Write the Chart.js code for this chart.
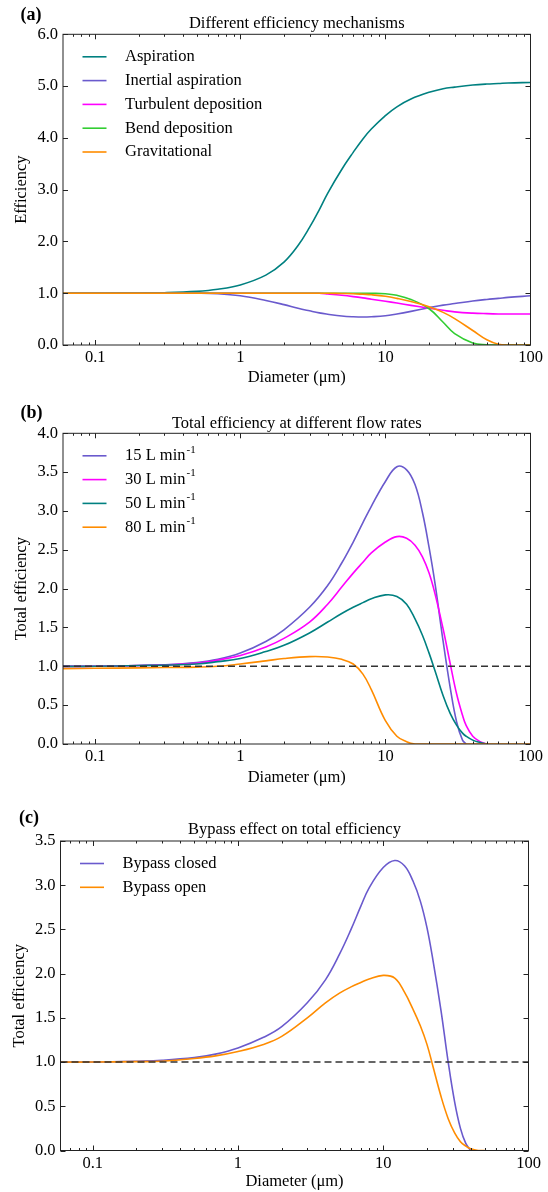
<!DOCTYPE html>
<html>
<head>
<meta charset="utf-8">
<script src="https://cdn.jsdelivr.net/npm/chart.js@4.4.0/dist/chart.umd.min.js"></script>
<style>
  body { margin: 0; background: #fff; }
  canvas { position: absolute; left: 0; }
</style>
</head>
<body>
<canvas id="chartA" width="548" height="400" style="top:0px"></canvas>
<canvas id="chartB" width="548" height="400" style="top:400px"></canvas>
<canvas id="chartC" width="548" height="392" style="top:800px"></canvas>
<script>
// x axis range and labelled ticks (log scale, micrometres)
const xMin = 0.06, xMax = 100;
const xTickValues = [0.1, 1, 10, 100];

// (a) different efficiency mechanisms
const diamA = [0.06, 0.1, 0.2, 0.3, 0.5, 0.7, 1, 1.5, 2, 2.5, 3, 3.5, 4, 5, 6, 7, 8, 10, 12, 15, 20, 25, 30, 40, 50, 60, 70, 100];
const aspiration = [1.0, 1.0, 1.005, 1.01, 1.035, 1.075, 1.16, 1.35, 1.6, 1.92, 2.27, 2.61, 2.93, 3.39, 3.72, 3.98, 4.17, 4.43, 4.6, 4.75, 4.88, 4.95, 4.98, 5.02, 5.04, 5.05, 5.06, 5.07];
const inertial = [1.0, 1.0, 1.0, 1.0, 1.0, 0.99, 0.95, 0.86, 0.78, 0.71, 0.66, 0.62, 0.595, 0.56, 0.545, 0.54, 0.545, 0.565, 0.6, 0.65, 0.72, 0.77, 0.8, 0.85, 0.88, 0.9, 0.92, 0.95];
const turbulent = [1, 1, 1, 1, 1, 1, 1, 1, 1, 1, 1.0, 0.998, 0.985, 0.96, 0.935, 0.91, 0.885, 0.845, 0.81, 0.765, 0.71, 0.67, 0.64, 0.615, 0.605, 0.6, 0.6, 0.6];
const bend = [1, 1, 1, 1, 1, 1, 1, 1, 1, 1, 1, 1, 1, 1, 1, 1, 0.998, 0.99, 0.96, 0.88, 0.7, 0.44, 0.22, 0.04, 0.005, 0, 0, 0];
const gravitational = [1, 1, 1, 1, 1, 1, 1, 1, 1, 1, 1, 1, 1.0, 0.995, 0.99, 0.98, 0.97, 0.94, 0.9, 0.84, 0.74, 0.63, 0.51, 0.28, 0.1, 0.015, 0, 0];
const mechanismLabels = ['Aspiration', 'Inertial aspiration', 'Turbulent deposition', 'Bend deposition', 'Gravitational'];

// (b) total efficiency at different flow rates
const diamB = [0.06, 0.1, 0.2, 0.3, 0.5, 0.7, 1, 1.5, 2, 3, 4, 5, 6, 7, 8, 10, 12, 14, 16, 18, 20, 22, 25, 28, 31, 34, 36, 40, 45, 50, 100];
const flow15 = [1.0, 1.0, 1.01, 1.02, 1.05, 1.09, 1.17, 1.32, 1.47, 1.76, 2.04, 2.33, 2.6, 2.85, 3.06, 3.38, 3.57, 3.53, 3.34, 2.98, 2.53, 2.06, 1.32, 0.72, 0.28, 0.05, 0.0, null, null, null, null];
const flow30 = [1.0, 1.0, 1.01, 1.02, 1.04, 1.08, 1.14, 1.25, 1.36, 1.57, 1.8, 2.02, 2.2, 2.34, 2.46, 2.6, 2.67, 2.65, 2.56, 2.41, 2.2, 1.93, 1.48, 1.03, 0.64, 0.37, 0.24, 0.1, 0.03, 0.0, null];
const flow50 = [1.0, 1.0, 1.01, 1.015, 1.03, 1.06, 1.1, 1.19, 1.27, 1.43, 1.57, 1.68, 1.76, 1.82, 1.87, 1.92, 1.9, 1.8, 1.61, 1.4, 1.17, 0.94, 0.62, 0.39, 0.24, 0.14, 0.1, 0.05, 0.02, 0.0, null];
const flow80 = [0.97, 0.975, 0.98, 0.985, 0.99, 1.0, 1.03, 1.07, 1.1, 1.125, 1.12, 1.09, 1.03, 0.9, 0.7, 0.3, 0.1, 0.03, 0.0, 0, 0, 0, 0, 0, 0, 0, 0, 0, 0, 0, 0];
const flowRates = [15, 30, 50, 80];

// (c) bypass effect on total efficiency
const diamC = [0.06, 0.1, 0.2, 0.3, 0.5, 0.7, 1, 1.5, 2, 3, 4, 5, 6, 7, 8, 10, 12, 14, 16, 18, 20, 22, 25, 28, 31, 34, 37, 40, 45, 50];
const bypassClosed = [1.0, 1.0, 1.01, 1.02, 1.05, 1.09, 1.16, 1.28, 1.4, 1.67, 1.93, 2.22, 2.5, 2.76, 2.97, 3.2, 3.28, 3.22, 3.05, 2.82, 2.52, 2.15, 1.58, 1.0, 0.55, 0.25, 0.08, 0.0, null, null];
const bypassOpen = [1.0, 1.0, 1.005, 1.01, 1.04, 1.07, 1.12, 1.2, 1.29, 1.5, 1.67, 1.78, 1.85, 1.9, 1.94, 1.98, 1.95, 1.79, 1.6, 1.41, 1.2, 0.95, 0.61, 0.36, 0.2, 0.1, 0.05, 0.02, 0.0, 0.0];
const bypassLabels = ['Bypass closed', 'Bypass open'];

const TEAL = '#008080', PURPLE = '#6a5acd', MAGENTA = '#ff00ff', GREEN = '#32cd32', ORANGE = '#ff8c00';
const SERIF = "'Liberation Serif', 'Times New Roman', serif";
const FS = 16.5;

Chart.defaults.font.family = SERIF;
Chart.defaults.color = '#000';

function series(label, xs, ys, color, i) {
  return {
    label: label,
    data: xs.map((x, k) => ({x: x, y: ys[k]})),
    borderColor: color,
    borderWidth: 1.6,
    pointRadius: 0,
    fill: false,
    tension: 0.4,
    order: -i   // later series drawn on top, like the original
  };
}

function unityLine() {
  return {
    label: 'unity',
    data: [{x: xMin, y: 1}, {x: xMax, y: 1}],
    borderColor: '#333',
    borderWidth: 1.5,
    borderDash: [7, 4],
    pointRadius: 0,
    order: -100
  };
}

// frame, inward ticks on all four sides, panel letter and in-plot legend
const frameTicks = {
  id: 'panelDecor',
  afterDatasetsDraw(chart, args, opts) {
    const {ctx, chartArea: a, scales: {x, y}} = chart;
    const line = (x1, y1, x2, y2) => { ctx.beginPath(); ctx.moveTo(x1, y1); ctx.lineTo(x2, y2); ctx.stroke(); };
    ctx.save();
    ctx.strokeStyle = '#222';
    ctx.lineWidth = 1;
    ctx.strokeRect(a.left, a.top, a.right - a.left, a.bottom - a.top);
    for (let e = -2; e <= 2; e++) {
      for (let m = 1; m <= 9; m++) {
        const v = m * Math.pow(10, e);
        if (v <= x.min || v >= x.max) continue;
        const px = Math.round(x.getPixelForValue(v)) + 0.5;
        const len = m === 1 ? 5 : 2.5;
        line(px, a.bottom, px, a.bottom - len);
        line(px, a.top, px, a.top + len);
      }
    }
    y.ticks.forEach(t => {
      const py = Math.round(y.getPixelForValue(t.value)) + 0.5;
      line(a.left, py, a.left + 5, py);
      line(a.right, py, a.right - 5, py);
    });

    ctx.fillStyle = '#000';
    ctx.textBaseline = 'middle';
    ctx.textAlign = 'left';
    ctx.font = 'bold 18px ' + SERIF;
    ctx.fillText(opts.letter, opts.letterX, opts.letterY);

    opts.items.forEach((it, i) => {
      const ly = a.top + 22.5 + 23.8 * i;
      ctx.strokeStyle = it.color;
      ctx.lineWidth = 1.6;
      line(a.left + 19.5, ly, a.left + 43.5, ly);
      ctx.font = FS + 'px ' + SERIF;
      ctx.fillText(it.text, a.left + 62, ly);
      if (it.sup) {
        const w = ctx.measureText(it.text).width;
        ctx.font = '11px ' + SERIF;
        ctx.fillText(it.sup, a.left + 62 + w + 1, ly - 6);
      }
    });
    ctx.restore();
  }
};

function makePanel(id, p) {
  const canvas = document.getElementById(id);
  const h = canvas.height;
  const half = FS * 1.2 / 2;
  return new Chart(canvas, {
    type: 'line',
    data: {datasets: p.datasets},
    options: {
      responsive: false,
      animation: false,
      events: [],
      layout: {padding: {left: 0, right: 548 - p.right, top: 0, bottom: 0}},
      plugins: {
        legend: {display: false},
        tooltip: {enabled: false},
        title: {
          display: true, fullSize: false, text: p.title, color: '#000',
          font: {size: FS, weight: 'normal'},
          padding: {top: p.titleY - half, bottom: p.top - p.titleY - half}
        },
        panelDecor: {letter: p.letter, letterX: p.letterX, letterY: p.letterY, items: p.items}
      },
      scales: {
        x: {
          type: 'logarithmic', min: xMin, max: xMax,
          afterBuildTicks: s => { s.ticks = xTickValues.map(v => ({value: v})); },
          afterFit: s => { s.height = h - p.bottom; },
          ticks: {callback: v => String(v), font: {size: FS}, color: '#000', padding: 3, maxRotation: 0, autoSkip: false},
          grid: {display: false, drawTicks: false},
          border: {display: false},
          title: {display: true, text: 'Diameter (μm)', color: '#000', font: {size: FS},
                  padding: {top: 0, bottom: Math.max(0, h - p.xTitleY - half)}}
        },
        y: {
          min: 0, max: p.yMax,
          afterFit: s => { s.width = p.left; },
          ticks: {stepSize: p.yStep, callback: v => v.toFixed(1), font: {size: FS}, color: '#000', padding: 5},
          grid: {display: false, drawTicks: false},
          border: {display: false},
          title: {display: true, text: p.yTitle, color: '#000', font: {size: FS},
                  padding: {top: p.yTitleX - half, bottom: 0}}
        }
      }
    },
    plugins: [frameTicks]
  });
}

const colorsA = [TEAL, PURPLE, MAGENTA, GREEN, ORANGE];
const valuesA = [aspiration, inertial, turbulent, bend, gravitational];
makePanel('chartA', {
  left: 63, right: 530.5, top: 34.3, bottom: 345, titleY: 24, xTitleY: 378, yTitleX: 21.7,
  letter: '(a)', letterX: 20.5, letterY: 15,
  title: 'Different efficiency mechanisms', yTitle: 'Efficiency',
  yMax: 6, yStep: 1,
  datasets: valuesA.map((ys, i) => series(mechanismLabels[i], diamA, ys, colorsA[i], i)),
  items: mechanismLabels.map((t, i) => ({text: t, color: colorsA[i]}))
});

const colorsB = [PURPLE, MAGENTA, TEAL, ORANGE];
const valuesB = [flow15, flow30, flow50, flow80];
makePanel('chartB', {
  left: 63, right: 530.5, top: 33.3, bottom: 344, titleY: 23.3, xTitleY: 377.7, yTitleX: 21.7,
  letter: '(b)', letterX: 20.5, letterY: 13.3,
  title: 'Total efficiency at different flow rates', yTitle: 'Total efficiency',
  yMax: 4, yStep: 0.5,
  datasets: valuesB.map((ys, i) => series(flowRates[i] + ' L min-1', diamB, ys, colorsB[i], i)).concat([unityLine()]),
  items: flowRates.map((r, i) => ({text: r + ' L min', sup: '-1', color: colorsB[i]}))
});

const colorsC = [PURPLE, ORANGE];
const valuesC = [bypassClosed, bypassOpen];
makePanel('chartC', {
  left: 60.5, right: 528.5, top: 41, bottom: 350.5, titleY: 30, xTitleY: 383.3, yTitleX: 19.2,
  letter: '(c)', letterX: 19, letterY: 18.3,
  title: 'Bypass effect on total efficiency', yTitle: 'Total efficiency',
  yMax: 3.5, yStep: 0.5,
  datasets: valuesC.map((ys, i) => series(bypassLabels[i], diamC, ys, colorsC[i], i)).concat([unityLine()]),
  items: bypassLabels.map((t, i) => ({text: t, color: colorsC[i]}))
});
</script>
</body>
</html>
